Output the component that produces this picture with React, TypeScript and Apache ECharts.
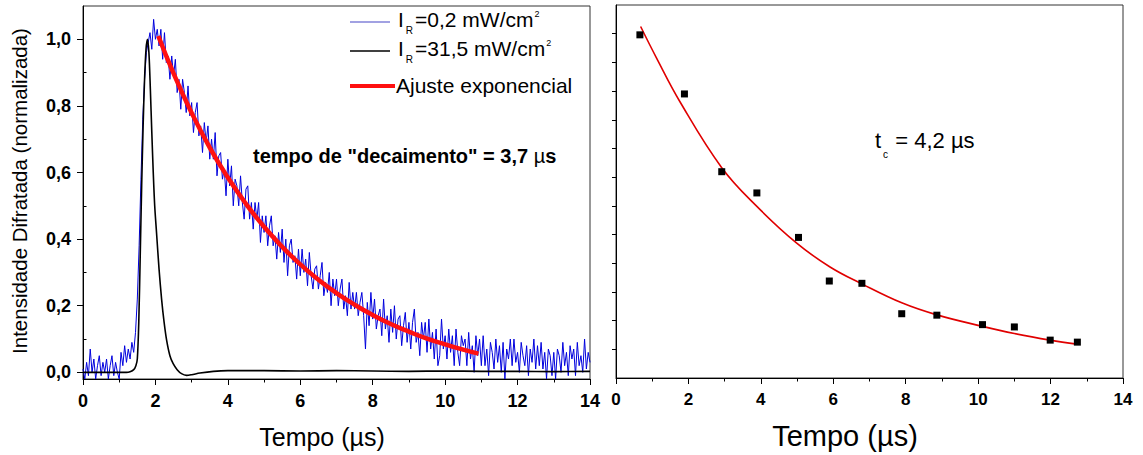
import React, { useEffect, useRef } from "react";
import * as echarts from "echarts";

// ---------------- DATA ----------------
// Left panel: blue trace (I_R = 0,2 mW/cm²), sampled every BLUE_DT µs from BLUE_T0
const BLUE_T0 = 0;
const BLUE_DT = 0.05;
const BLUE_VALUES = [
  // 0.00 - 1.40
  0.01, -0.02, 0.03, -0.01, 0.07, 0.0, 0.04, -0.02, 0.02, 0.05,
  -0.01, 0.03, 0.0, 0.04, -0.02, 0.02, 0.05, -0.01, 0.03, 0.0,
  -0.02, 0.06, 0.02, 0.08, 0.03, 0.07, 0.04, 0.09, 0.06,
  // 1.45 - 2.10
  0.12, 0.22, 0.38, 0.58, 0.76, 0.88, 0.96, 0.99, 1.02, 0.97, 1.06, 1.0, 1.03, 0.98,
  // 2.15 - 2.50
  1.03, 0.94, 1.02, 0.93, 0.95, 0.88, 0.95, 0.89,
  // 2.55 - 3.00
  0.94, 0.84, 0.88, 0.79, 0.88, 0.84, 0.78, 0.86, 0.77, 0.81,
  // 3.05 - 3.50
  0.72, 0.78, 0.81, 0.71, 0.74, 0.66, 0.75, 0.69, 0.74, 0.64,
  // 3.55 - 4.00
  0.7, 0.64, 0.72, 0.59, 0.65, 0.66, 0.58, 0.61, 0.53, 0.64,
  // 4.05 - 4.50
  0.56, 0.62, 0.5, 0.58, 0.56, 0.5, 0.59, 0.51, 0.46, 0.55,
  // 4.55 - 5.00
  0.56, 0.46, 0.51, 0.43, 0.51, 0.46, 0.51, 0.39, 0.47, 0.42,
  // 5.05 - 5.50
  0.47, 0.38, 0.44, 0.47, 0.38, 0.41, 0.34, 0.42, 0.36, 0.43,
  // 5.55 - 6.00
  0.33, 0.4, 0.29, 0.38, 0.4, 0.33, 0.35, 0.28, 0.37, 0.29,
  // 6.05 - 6.50
  0.37, 0.3, 0.34, 0.26, 0.36, 0.29, 0.25, 0.31, 0.32, 0.25,
  // 6.55 - 7.00
  0.29, 0.33, 0.23, 0.27, 0.24, 0.3, 0.2, 0.28, 0.23, 0.28,
  // 7.05 - 7.50
  0.2, 0.25, 0.28, 0.19, 0.23, 0.17, 0.27, 0.19, 0.24, 0.19,
  // 7.55 - 8.00
  0.24, 0.17, 0.21, 0.24, 0.17, 0.07, 0.21, 0.14, 0.24, 0.16,
  // 8.05 - 8.50
  0.22, 0.13, 0.17, 0.19, 0.11, 0.22, 0.13, 0.17, 0.09, 0.19,
  // 8.55 - 9.00
  0.12, 0.2, 0.1, 0.16, 0.17, 0.08, 0.14, 0.18, 0.09, 0.15,
  // 9.05 - 9.50
  0.07, 0.15, 0.19, 0.09, 0.12, 0.05, 0.15, 0.1, 0.15, 0.06,
  // 9.55 - 10.00
  0.16, 0.07, 0.12, 0.04, 0.13, 0.02, 0.05, 0.16, 0.07, 0.11,
  // 10.05 - 10.50
  0.04, 0.13, 0.06, 0.11, 0.02, 0.13, 0.06, 0.02, 0.11, 0.08,
  // 10.55 - 11.00
  0.1, 0.02, 0.12, 0.04, 0.08, 0.0, 0.11, 0.05, 0.1, 0.02,
  // 11.05 - 11.50
  0.11, 0.02, 0.07, -0.01, 0.09, 0.06, 0.01, 0.1, 0.03, 0.08,
  // 11.55 - 12.00
  0.0, 0.09, -0.02, 0.07, 0.04, 0.1, 0.02, 0.1, 0.03, 0.06,
  // 12.05 - 12.50
  0.0, 0.09, 0.05, 0.02, 0.08, -0.01, 0.07, 0.03, 0.1, 0.01,
  // 12.55 - 13.00
  0.08, 0.02, 0.09, 0.01, 0.06, -0.02, 0.07, 0.05, -0.01, 0.06,
  // 13.05 - 13.50
  -0.02, 0.07, 0.05, 0.0, 0.09, 0.02, 0.06, -0.01, 0.08, 0.04,
  // 13.55 - 14.00
  0.07, -0.01, 0.09, 0.02, 0.05, 0.0, 0.1, 0.01, 0.06, 0.03,
];

// Left panel: black trace (I_R = 31,5 mW/cm²)
const BLACK_T = [
  0, 1.2, 1.3, 1.4, 1.46, 1.5, 1.54, 1.58, 1.62, 1.66, 1.7, 1.74, 1.78, 1.82,
  1.86, 1.9, 1.94, 1.98, 2.03, 2.1, 2.17, 2.24, 2.31, 2.4, 2.49, 2.6, 2.72,
  2.86, 3.0, 3.23, 3.6, 4.0, 5, 6, 7, 8, 9, 10, 11, 12, 13, 14,
];
const BLACK_V = [
  0, 0, 0.002, 0.008, 0.02, 0.04, 0.15, 0.35, 0.56, 0.74, 0.88, 0.97, 1.0,
  0.96, 0.85, 0.72, 0.6, 0.5, 0.42, 0.31, 0.22, 0.15, 0.096, 0.05, 0.026,
  0.008, -0.004, -0.009, -0.007, -0.002, 0.003, 0.005, 0.005, 0.004, 0.005,
  0.004, 0.003, 0.004, 0.003, 0.003, 0.002, 0.003,
];

// Left panel: exponential fit (red)
const FIT_T = [2.08, 2.5, 3, 3.5, 4, 4.5, 5, 5.5, 6, 6.5, 7, 7.5, 8, 8.5, 9, 9.5, 10, 10.5, 10.92];
const FIT_V = [
  1.01, 0.898, 0.779, 0.675, 0.585, 0.506, 0.437, 0.377, 0.324, 0.278, 0.238,
  0.203, 0.172, 0.145, 0.122, 0.101, 0.084, 0.068, 0.056,
];

// Right panel: measured points (arbitrary units) and fitted curve
const PTS_T = [0.66, 1.89, 2.92, 3.89, 5.04, 5.89, 6.79, 7.89, 8.86, 10.12, 11.0, 11.99, 12.74];
const PTS_V = [11.96, 9.9, 7.19, 6.45, 4.9, 3.38, 3.3, 2.24, 2.19, 1.86, 1.78, 1.32, 1.25];

const FIT2_T = [0.68, 1.12, 1.77, 2.92, 3.89, 4.99, 5.91, 6.79, 7.89, 8.86, 10.12, 11.0, 11.99, 12.73];
const FIT2_V = [12.25, 11.15, 9.62, 7.33, 5.98, 4.7, 3.87, 3.28, 2.62, 2.2, 1.8, 1.55, 1.32, 1.18];

// Axis ticks
const X_TICKS_MAX = 14;
const LEFT_Y_LABELS = [0, 0.2, 0.4, 0.6, 0.8, 1.0];
const LEFT_Y_MINOR = [0.1, 0.3, 0.5, 0.7, 0.9];
const RIGHT_Y_TICKS = [1, 2, 3, 4, 5, 6, 7, 8, 9, 10, 11, 12];

// Texts
const LEGEND_LABELS = ["=0,2 mW/cm", "=31,5 mW/cm", "Ajuste exponencial"];
const DECAY_TEXT = 'tempo de "decaimento" = 3,7 ';
const TC_TEXT = " = 4,2 µs";
const X_TITLE = "Tempo (µs)";
const Y_TITLE = "Intensidade Difratada (normalizada)";

// ---------------- CHART ----------------
const FONT = '"Liberation Sans", Arial, sans-serif';

type Part = { t: string; size: number; dy?: number; weight?: string; gap?: number };

function measure(t: string, size: number, weight = "normal"): number {
  const c = document.createElement("canvas").getContext("2d");
  if (!c) return t.length * size * 0.55;
  c.font = `${weight} ${size}px "Liberation Sans", Arial, sans-serif`;
  return c.measureText(t).width;
}

function seq(x: number, y: number, parts: Part[]): any[] {
  const out: any[] = [];
  let cx = x;
  for (const p of parts) {
    const w = p.weight || "normal";
    out.push({
      type: "text",
      x: cx,
      y: y + (p.dy || 0),
      silent: true,
      style: {
        text: p.t,
        fontSize: p.size,
        fontWeight: w,
        fontFamily: FONT,
        fill: "#000",
        align: "left",
        verticalAlign: "middle",
        textAlign: "left",
        textVerticalAlign: "middle",
      },
    });
    cx += measure(p.t, p.size, w) + (p.gap || 0);
  }
  return out;
}

function fmt(v: number) {
  return v.toFixed(1).replace(".", ",");
}

export default function App() {
  const ref = useRef<HTMLDivElement>(null);

  useEffect(() => {
    document.body.style.margin = "0";
    const chart = echarts.init(ref.current!, null, { renderer: "svg" });

    const blueData = BLUE_VALUES.map((v, i) => [BLUE_T0 + i * BLUE_DT, v]);
    const blackData = BLACK_T.map((t, i) => [t, BLACK_V[i]]);
    const fitData = FIT_T.map((t, i) => [t, FIT_V[i]]);
    const ptsData = PTS_T.map((t, i) => [t, PTS_V[i]]);
    const fit2Data = FIT2_T.map((t, i) => [t, FIT2_V[i]]);

    const axisLineStyle = { color: "#000", width: 1 };
    const xLabel = {
      fontSize: 18,
      fontWeight: "bold",
      color: "#000",
      fontFamily: FONT,
      margin: 13,
    };

    const textStyle = (text: string, size: number) => ({
      text,
      fontSize: size,
      fontFamily: FONT,
      fill: "#000",
      align: "center",
      verticalAlign: "middle",
      textAlign: "center",
      textVerticalAlign: "middle",
    });

    const graphics: any[] = [
      // legend lines
      { type: "line", silent: true, shape: { x1: 350, y1: 22, x2: 390, y2: 22 }, style: { stroke: "#8282d8", lineWidth: 1.5 } },
      { type: "line", silent: true, shape: { x1: 350, y1: 51, x2: 390, y2: 51 }, style: { stroke: "#000", lineWidth: 1.5 } },
      { type: "line", silent: true, shape: { x1: 350, y1: 86, x2: 395, y2: 86 }, style: { stroke: "#ff1010", lineWidth: 4 } },
      ...seq(398, 19, [
        { t: "I", size: 21, gap: 2 },
        { t: "R", size: 10, dy: 11, gap: 2 },
        { t: LEGEND_LABELS[0], size: 21, gap: 1 },
        { t: "2", size: 9, dy: -5 },
      ]),
      ...seq(398, 48, [
        { t: "I", size: 21, gap: 2 },
        { t: "R", size: 10, dy: 11, gap: 2 },
        { t: LEGEND_LABELS[1], size: 21, gap: 1 },
        { t: "2", size: 9, dy: -5 },
      ]),
      ...seq(396, 85, [{ t: LEGEND_LABELS[2], size: 21 }]),
      ...seq(253, 156, [
        { t: DECAY_TEXT, size: 20, weight: "bold" },
        { t: "µ", size: 20 },
        { t: "s", size: 20, weight: "bold" },
      ]),
      ...seq(875, 140, [
        { t: "t", size: 22, gap: 2 },
        { t: "c", size: 10, dy: 14, gap: 1 },
        { t: TC_TEXT, size: 22 },
      ]),
      { type: "text", x: 19, y: 191, rotation: Math.PI / 2, silent: true, style: textStyle(Y_TITLE, 20.5) },
      { type: "text", x: 322, y: 437, silent: true, style: textStyle(X_TITLE, 25) },
      { type: "text", x: 845, y: 436, silent: true, style: textStyle(X_TITLE, 29) },
    ];

    const option: any = {
      animation: false,
      backgroundColor: "#fff",
      grid: [
        { left: 83, right: 553, top: 6, bottom: 76, show: true, borderColor: "#333", borderWidth: 1 },
        { left: 616, right: 20, top: 5, bottom: 77, show: true, borderColor: "#333", borderWidth: 1 },
      ],
      xAxis: [
        {
          type: "value",
          gridIndex: 0,
          min: 0,
          max: X_TICKS_MAX,
          interval: 2,
          axisLine: { show: true, onZero: false, lineStyle: axisLineStyle },
          axisTick: { show: true, length: 6, lineStyle: axisLineStyle },
          minorTick: { show: true, splitNumber: 2, length: 3.5, lineStyle: axisLineStyle },
          axisLabel: xLabel,
          splitLine: { show: false },
          minorSplitLine: { show: false },
        },
        {
          type: "value",
          gridIndex: 1,
          min: 0,
          max: X_TICKS_MAX,
          interval: 2,
          axisLine: { show: true, onZero: false, lineStyle: axisLineStyle },
          axisTick: { show: true, length: 6, lineStyle: axisLineStyle },
          minorTick: { show: true, splitNumber: 2, length: 3.5, lineStyle: axisLineStyle },
          axisLabel: { ...xLabel, fontSize: 17 },
          splitLine: { show: false },
          minorSplitLine: { show: false },
        },
      ],
      yAxis: [
        {
          type: "value",
          gridIndex: 0,
          min: -0.02,
          max: 1.1,
          axisLine: { show: true, onZero: false, lineStyle: axisLineStyle },
          axisTick: { show: true, length: 6, customValues: LEFT_Y_LABELS, lineStyle: axisLineStyle },
          axisLabel: {
            customValues: LEFT_Y_LABELS,
            formatter: (v: number) => fmt(v),
            fontSize: 18,
            fontWeight: "bold",
            color: "#000",
            fontFamily: FONT,
            margin: 12,
          },
          splitLine: { show: false },
        },
        {
          type: "value",
          gridIndex: 0,
          min: -0.02,
          max: 1.1,
          axisLine: { show: false },
          axisTick: { show: true, length: 3.5, customValues: LEFT_Y_MINOR, lineStyle: axisLineStyle },
          axisLabel: { show: false },
          splitLine: { show: false },
        },
        {
          type: "value",
          gridIndex: 1,
          min: 0,
          max: 13,
          axisLine: { show: true, onZero: false, lineStyle: axisLineStyle },
          axisTick: { show: true, length: 4, customValues: RIGHT_Y_TICKS, lineStyle: axisLineStyle },
          axisLabel: { show: false },
          splitLine: { show: false },
        },
      ],
      series: [
        {
          name: "I_R=0,2 mW/cm²",
          type: "line",
          xAxisIndex: 0,
          yAxisIndex: 0,
          data: blueData,
          symbol: "none",
          showSymbol: false,
          lineStyle: { color: "#0000dd", width: 1 },
          z: 2,
          silent: true,
        },
        {
          name: "I_R=31,5 mW/cm²",
          type: "line",
          xAxisIndex: 0,
          yAxisIndex: 0,
          data: blackData,
          symbol: "none",
          smooth: 0.3,
          lineStyle: { color: "#000", width: 1.6 },
          z: 3,
          silent: true,
        },
        {
          name: "Ajuste exponencial",
          type: "line",
          xAxisIndex: 0,
          yAxisIndex: 0,
          data: fitData,
          symbol: "none",
          smooth: true,
          lineStyle: { color: "#ff1010", width: 4.5 },
          z: 4,
          silent: true,
        },
        {
          name: "Pontos",
          type: "scatter",
          xAxisIndex: 1,
          yAxisIndex: 2,
          data: ptsData,
          symbol: "rect",
          symbolSize: 7,
          itemStyle: { color: "#000", opacity: 1 },
          z: 4,
          silent: true,
        },
        {
          name: "Ajuste",
          type: "line",
          xAxisIndex: 1,
          yAxisIndex: 2,
          data: fit2Data,
          symbol: "none",
          smooth: 0.4,
          lineStyle: { color: "#e00000", width: 1.6 },
          z: 3,
          silent: true,
        },
      ],
      graphic: graphics,
    };

    chart.setOption(option);
    return () => chart.dispose();
  }, []);

  return <div ref={ref} style={{ width: 1143, height: 455 }} />;
}
